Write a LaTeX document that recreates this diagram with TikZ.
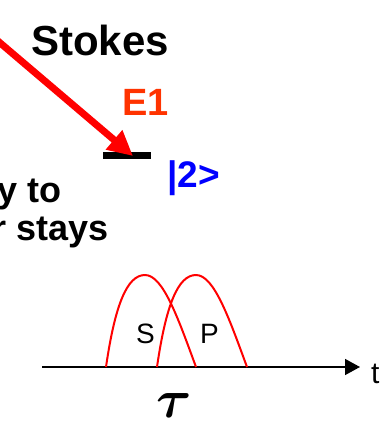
\documentclass[tikz,border=0pt]{standalone}
\usepackage{fontspec}
\setmainfont{Liberation Sans}
\usetikzlibrary{arrows.meta,calc,positioning}
\definecolor{pumpred}{RGB}{255,0,0}
\definecolor{levelorange}{RGB}{255,51,0}
\definecolor{ketblue}{RGB}{0,0,255}
\tikzset{
 bigtxt/.style={inner sep=0,font=\fontsize{38}{44}\selectfont\bfseries},
 pulse/.style={pumpred,line width=2pt,line join=round}
}

\begin{document}
\begin{tikzpicture}[x=1pt,y=-1pt]
 \useasboundingbox(0,0)rectangle(380,424);
 % level, pump arrow and labels
 \node[bigtxt,anchor=base west,font=\fontsize{42}{48}\selectfont\bfseries](stokes)at(31,55){Stokes};
 \node[bigtxt,anchor=base west,text=levelorange](eone)at(122,115){E1};
 \node[fill=black,minimum width=48pt,minimum height=7pt,inner sep=0](lvl)at(127,155){};
 \node[bigtxt,anchor=base west,text=ketblue,font=\fontsize{37}{42}\selectfont\bfseries](ket)at(167,187){|2>};
 \node[bigtxt,anchor=base east,font=\fontsize{36}{42}\selectfont\bfseries](lineA)at(62,202){y to};
 \node[bigtxt,anchor=base east,font=\fontsize{36}{42}\selectfont\bfseries](lineB)at(109,240){r stays};
 \coordinate(src)at(-8,36);
 \coordinate(tip)at($(lvl.center)+(6,1)$);
 \draw[pumpred,line width=7pt,-{Triangle[length=25pt,width=24pt]}](src)--(tip);
 % time axis with the two pulses
 \coordinate(t0)at(42,367);
 \coordinate(t1)at(360,367);
 \draw[line width=1.5pt,-{Triangle[length=15pt,width=16pt]}](t0)--(t1);
 \node[anchor=base west,inner sep=0,font=\fontsize{30}{36}\selectfont](tlab)at(371,383){t};
 \draw[pulse](106,367)..controls(115,305)and(127,275)..(145,275)..controls(163,275)and(178,318)..(196,367);
 \draw[pulse](157,367)..controls(166,305)and(178,275)..(196,275)..controls(214,275)and(229,318)..(247,367);
 \node[anchor=base west,inner sep=0,font=\fontsize{28}{32}\selectfont](slab)at(136,343){S};
 \node[anchor=base west,inner sep=0,font=\fontsize{28}{32}\selectfont](plab)at(200,343){P};
 \node[anchor=base,inner sep=0](tau)at(174,417){\scalebox{5.4}{\boldmath$\tau$}};
\end{tikzpicture}
\end{document}
